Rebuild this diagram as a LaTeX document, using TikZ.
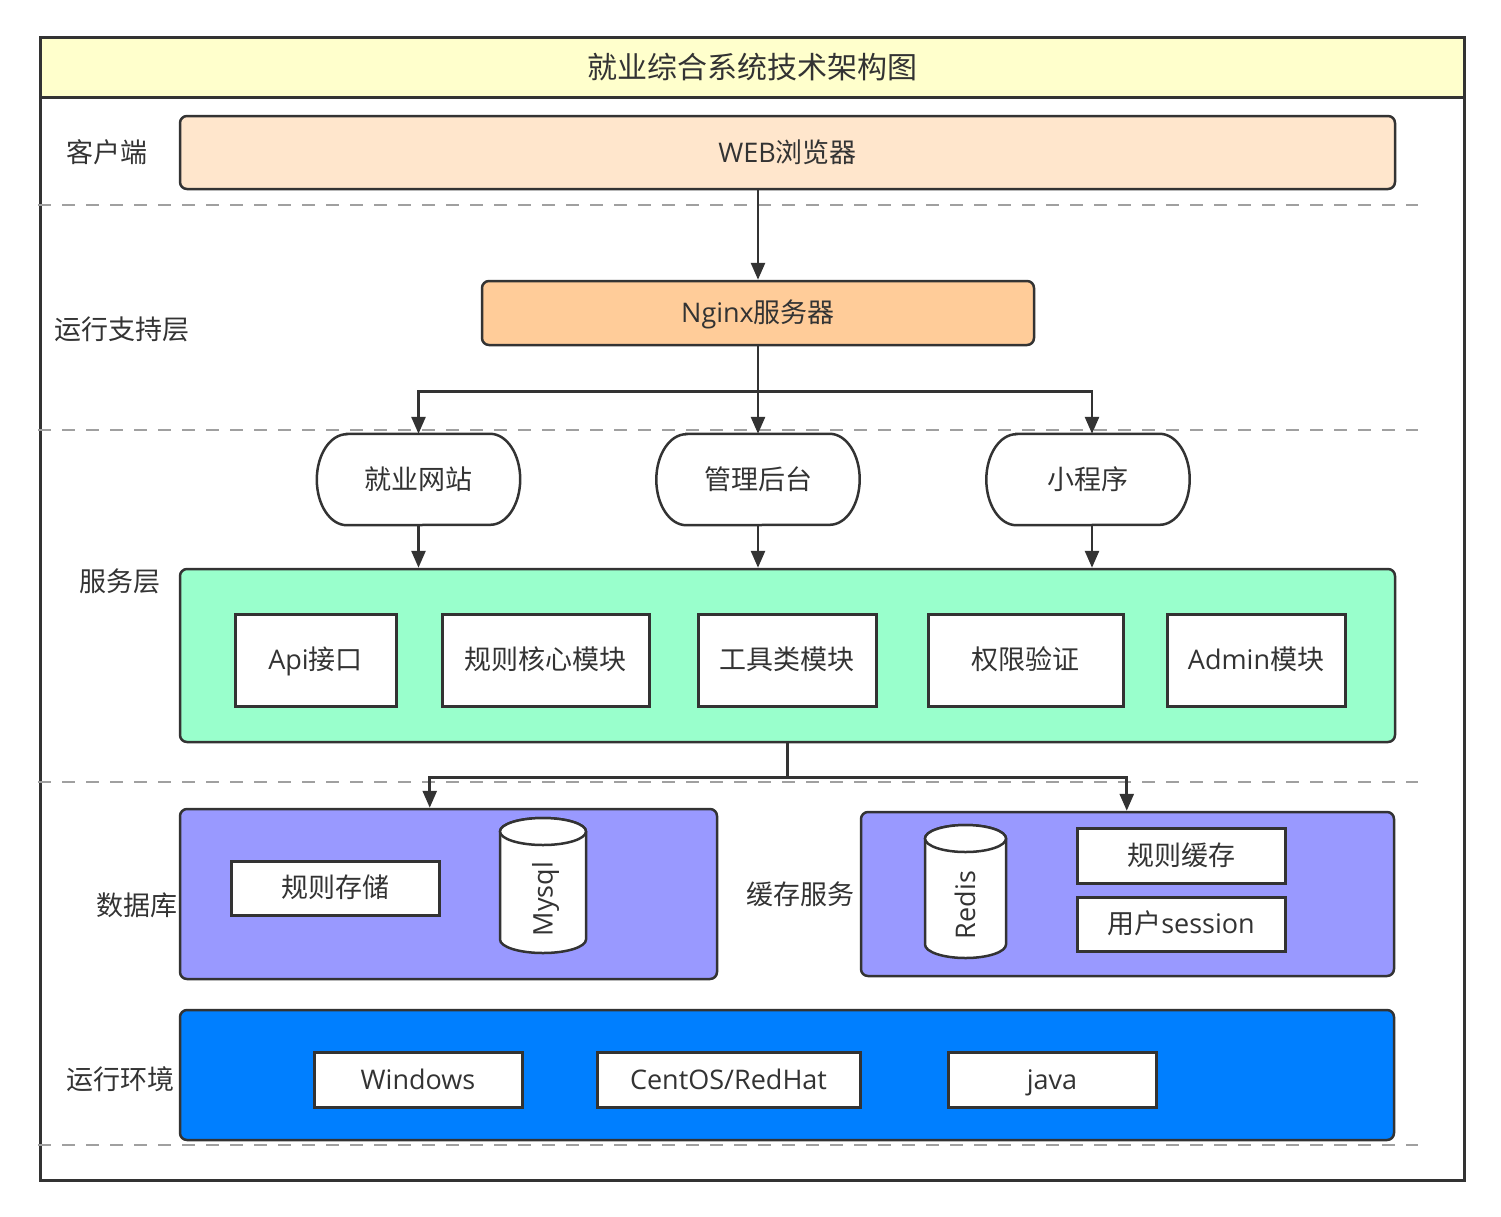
\documentclass[tikz,border=0pt]{standalone}
\usepackage{fontspec}
\setmainfont{Noto Sans CJK SC}
\newfontfamily\lat{Open Sans}
\usetikzlibrary{arrows.meta,calc}
\definecolor{dk}{HTML}{333333}
\definecolor{dashgray}{HTML}{A0A0A0}
\definecolor{titlefill}{HTML}{FFFFCC}
\definecolor{webfill}{HTML}{FFE6CC}
\definecolor{nginxfill}{HTML}{FFCC99}
\definecolor{svcfill}{HTML}{99FFCC}
\definecolor{dbfill}{HTML}{9999FF}
\definecolor{envfill}{HTML}{007FFF}
\newcommand{\termoutline}[1]{%
  \draw[dk, line width=2.5pt, fill=white]
    ([xshift=30pt]#1.north west) -- ([xshift=-30pt]#1.north east)
    arc[start angle=-90, end angle=90, x radius=30, y radius=45.5]
    -- ([xshift=30pt]#1.south west)
    arc[start angle=90, end angle=270, x radius=30, y radius=45.5] -- cycle;}
\newcommand{\cyloutline}[6]{% x0, x1, ytop, ybottom, rx, ry
  \draw[dk, line width=2.5pt, fill=white]
    (#1,#3+#6) -- (#1,#4-#6)
    arc[start angle=180, end angle=0, x radius=#5, y radius=#6]
    -- (#2,#3+#6)
    arc[start angle=0, end angle=-180, x radius=#5, y radius=#6] -- cycle;
  \draw[dk, line width=2.5pt, fill=white] ({(#1+#2)/2},#3+#6) ellipse[x radius=#5, y radius=#6];}
\begin{document}
\begin{tikzpicture}[x=1pt,y=-1pt,
  txt/.style={text=dk, font=\fontsize{27}{32}\selectfont, inner sep=0pt, text height=23pt, text depth=4pt},
  box/.style={txt, draw=dk, line width=2.5pt, rounded corners=7pt},
  sq/.style={txt, draw=dk, line width=3pt, fill=white},
  term/.style={txt, minimum width=203pt, minimum height=91pt},
  arr/.style={draw=dk, line width=2.7pt, -{Triangle[length=17pt,width=14pt]}},
  sep/.style={draw=dashgray, line width=1.5pt, dash pattern=on 13pt off 11pt}]
\useasboundingbox (0,0) rectangle (1501,1216);
% frame and title
\node[draw=dk, line width=3pt, fill=titlefill, minimum width=1424pt, minimum height=60pt, inner sep=0pt] (titlebar) at (752,67) {};
\node[txt, font=\fontsize{30}{34}\selectfont, text height=26pt, text depth=4pt] (title) at (752,67) {就业综合系统技术架构图};
\node[draw=dk, line width=3pt, minimum width=1424pt, minimum height=1143pt, inner sep=0pt] (frame) at (752,608.5) {};
% separators
\draw[sep] (38,205) -- (1418,205);
\draw[sep] (38,430) -- (1418,430);
\draw[sep] (38,782) -- (1418,782);
\draw[sep] (38,1145) -- (1418,1145);
% layer labels
\node[txt] (lclient) at (107,153) {客户端};
\node[txt] (lrun) at (122,330) {运行支持层};
\node[txt] (lsvc) at (120,582) {服务层};
\node[txt] (ldb) at (137,906) {数据库};
\node[txt] (lcache) at (800,895) {缓存服务};
\node[txt] (lenv) at (120,1080) {运行环境};
% client
\node[box, fill=webfill, minimum width=1215pt, minimum height=73pt] (web) at (787.5,152.5) {{\lat WEB}浏览器};
% nginx
\node[box, fill=nginxfill, minimum width=552pt, minimum height=64pt] (nginx) at (758,313) {{\lat Nginx}服务器};
% terminators
\node[term] (t1) at (418.5,479.5) {};
\node[term] (t2) at (758,479.5) {};
\node[term] (t3) at (1088,479.5) {};
\termoutline{t1}\termoutline{t2}\termoutline{t3}
\node[txt] (t1l) at (t1) {就业网站};
\node[txt] (t2l) at (t2) {管理后台};
\node[txt] (t3l) at (t3) {小程序};
% service layer
\node[box, fill=svcfill, minimum width=1215pt, minimum height=173pt] (svc) at (787.5,655.5) {};
\node[sq, minimum width=161pt, minimum height=92pt] (api) at (315.5,660) {{\lat Api}接口};
\node[sq, minimum width=207pt, minimum height=92pt] (rule) at (545.5,660) {规则核心模块};
\node[sq, minimum width=178pt, minimum height=92pt] (tool) at (787,660) {工具类模块};
\node[sq, minimum width=195pt, minimum height=92pt] (auth) at (1025.5,660) {权限验证};
\node[sq, minimum width=178pt, minimum height=92pt] (admin) at (1256,660) {{\lat Admin}模块};
% database
\node[box, fill=dbfill, minimum width=537pt, minimum height=170pt] (db) at (448.5,894) {};
\node[sq, minimum width=208pt, minimum height=54pt] (store) at (335,888) {规则存储};
\cyloutline{500}{586}{818}{953}{43}{13.5}
\node[txt, rotate=90] (mysql) at (543,899) {{\lat Mysql}};
% cache
\node[box, fill=dbfill, minimum width=533pt, minimum height=164pt] (cache) at (1127.5,894) {};
\cyloutline{925}{1006}{825}{958}{40.5}{13.5}
\node[txt, rotate=90] (redis) at (965.5,905) {{\lat Redis}};
\node[sq, minimum width=208pt, minimum height=55pt] (rcache) at (1181,855.5) {规则缓存};
\node[sq, minimum width=208pt, minimum height=54pt] (sess) at (1181,924) {用户{\lat session}};
% environment
\node[box, fill=envfill, minimum width=1214pt, minimum height=130pt] (env) at (787,1075) {};
\node[sq, minimum width=208pt, minimum height=55pt] (win) at (418,1079.5) {\lat Windows};
\node[sq, minimum width=263pt, minimum height=55pt] (centos) at (728.5,1079.5) {\lat CentOS/RedHat};
\node[sq, minimum width=208pt, minimum height=55pt] (java) at (1052,1079.5) {\lat java};
% connectors
\draw[arr] (nginx.north |- web.south) -- (nginx.north);
\draw[arr] (nginx.south) -- ++(0,45) -| (t1.north);
\draw[arr] (nginx.south) -- (t2.north);
\draw[arr] (nginx.south) -- ++(0,45) -| ([xshift=4pt]t3.north);
\draw[arr] (t1.south) -- (t1.south |- svc.north);
\draw[arr] (t2.south) -- (t2.south |- svc.north);
\draw[arr] ([xshift=4pt]t3.south) -- ([xshift=4pt]t3.south |- svc.north);
\draw[arr] (svc.south) -- ++(0,34) -| ([xshift=251pt]db.north west);
\draw[arr] (svc.south) -- ++(0,34) -| ([xshift=267pt]cache.north west);
\end{tikzpicture}
\end{document}
